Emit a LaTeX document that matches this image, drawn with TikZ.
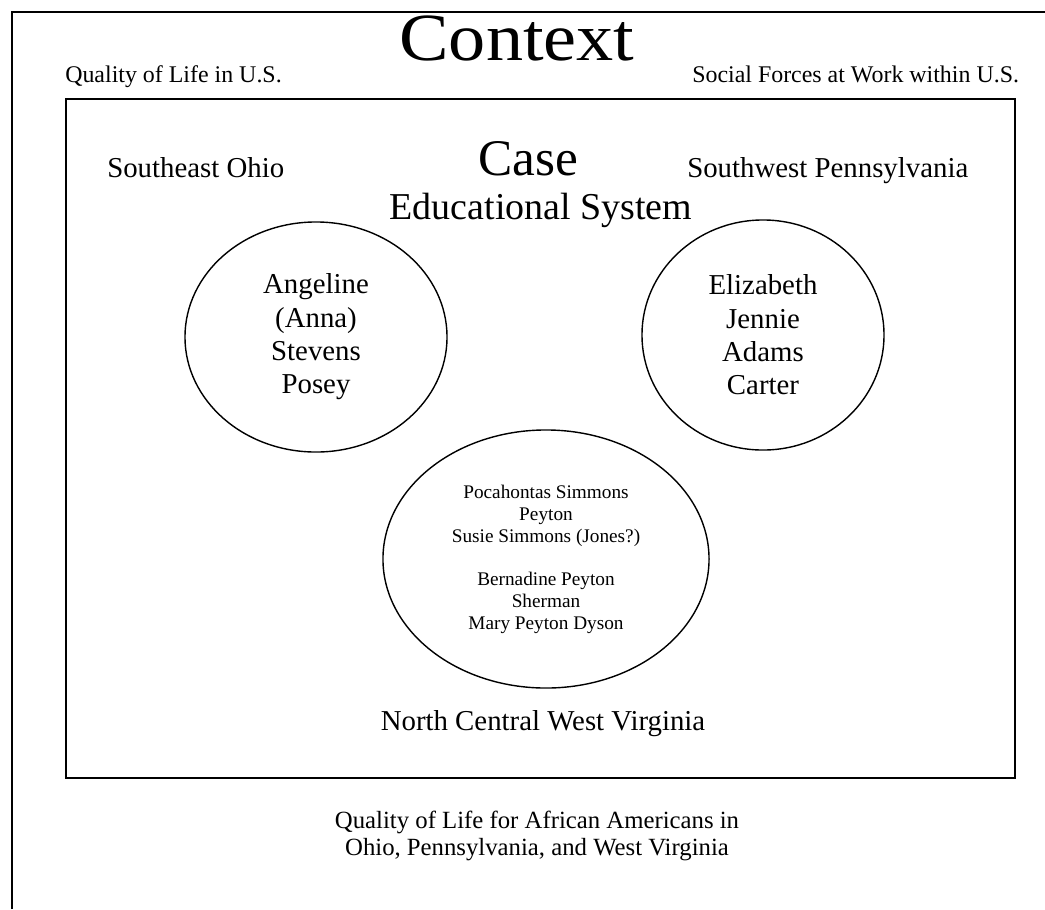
\documentclass[tikz,border=0pt]{standalone}
\usepackage{fontspec}
\setmainfont{Liberation Serif}
\usetikzlibrary{shapes.geometric}

\tikzset{
	bigtitle/.style={font=\fontsize{48}{50}\selectfont, xscale=1.1},
	casetitle/.style={font=\fontsize{36.5}{40}\selectfont},
	systitle/.style={font=\fontsize{27}{30}\selectfont},
	region/.style={font=\fontsize{20.5}{23.7}\selectfont, inner sep=0pt},
	ctxtext/.style={font=\fontsize{17}{19.2}\selectfont, inner sep=0pt},
	person/.style={ellipse, draw, line width=1pt, inner sep=0pt, align=center, font=\fontsize{20.5}{23.7}\selectfont},
	family/.style={person, font=\fontsize{13.7}{15.6}\selectfont}
}

\begin{document}
\begin{tikzpicture}[x=0.025cm, y=-0.025cm]
		
		\useasboundingbox (0,0) rectangle (1045,909);
		
		% --- outer frame (context) ---
		\draw[line width=1.2pt] (12,909) -- (12,12) -- (1045,12);
		\node[bigtitle, inner sep=0pt, anchor=base] (context) at (517,60) {Context};
		\node[ctxtext, anchor=base west] (qolus) at (65,82) {Quality of Life in U.S.};
		\node[ctxtext, anchor=base west] (forces) at (692,82) {Social Forces at Work within U.S.};
		
		% --- inner frame (case) ---
		\draw[line width=1.2pt] (66,99) rectangle (1015,778);
		\node[casetitle, inner sep=0pt, anchor=base] (case) at (528,175) {Case};
		\node[systitle, inner sep=0pt, anchor=base] (system) at (541,219) {Educational System};
		\node[region, anchor=base west] (ohio) at (107,177) {Southeast Ohio};
		\node[region, anchor=base west] (penn) at (687,177) {Southwest Pennsylvania};
		\node[region, anchor=base] (wva) at (543,730) {North Central West Virginia};
		
		% --- the women ---
		\node[person, minimum width=6.55cm, minimum height=5.75cm] (anna) at (316,337)
			{Angeline\\(Anna)\\Stevens\\Posey};
		\node[person, minimum width=6.05cm, minimum height=5.75cm] (carter) at (763,335)
			{Elizabeth\\Jennie\\Adams\\Carter};
		\node[family, minimum width=8.15cm, minimum height=6.45cm] (peyton) at (546,559)
			{Pocahontas Simmons\\Peyton\\Susie Simmons (Jones?)\\[15pt]Bernadine Peyton\\Sherman\\Mary Peyton Dyson};
		
		% --- below the case ---
		\node[ctxtext, align=center, font=\fontsize{17.6}{19.4}\selectfont] (qolaa) at (537,836)
			{Quality of Life for African Americans in\\Ohio, Pennsylvania, and West Virginia};
		
	\end{tikzpicture}
\end{document}
